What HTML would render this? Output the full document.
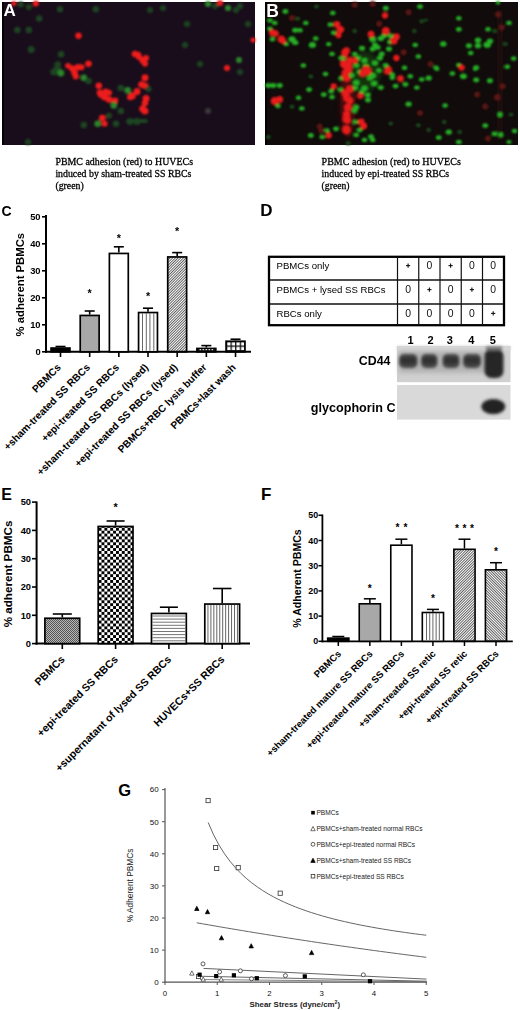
<!DOCTYPE html><html><head><meta charset="utf-8"><style>html,body{margin:0;padding:0;background:#fff;}svg{display:block}text{font-family:"Liberation Sans",sans-serif}</style></head><body>
<svg width="520" height="1010" viewBox="0 0 520 1010">
<defs>
<filter id="bl1" x="-50%" y="-50%" width="200%" height="200%"><feGaussianBlur stdDeviation="1"/></filter>
<filter id="bl15" x="-50%" y="-50%" width="200%" height="200%"><feGaussianBlur stdDeviation="1.3"/></filter>
<filter id="bl2" x="-50%" y="-50%" width="200%" height="200%"><feGaussianBlur stdDeviation="1.6"/></filter>
<filter id="bl3" x="-20%" y="-50%" width="140%" height="200%"><feGaussianBlur stdDeviation="2.2"/></filter>
<pattern id="hatchR" patternUnits="userSpaceOnUse" width="1.9" height="4" patternTransform="rotate(45)"><rect x="0" y="0" width="0.75" height="4" fill="#333"/></pattern>
<pattern id="hatchL" patternUnits="userSpaceOnUse" width="1.9" height="4" patternTransform="rotate(-45)"><rect x="0" y="0" width="0.75" height="4" fill="#333"/></pattern>
<pattern id="checker" patternUnits="userSpaceOnUse" width="5.8" height="5.8"><rect width="5.8" height="5.8" fill="#fff"/><rect width="2.9" height="2.9" fill="#000"/><rect x="2.9" y="2.9" width="2.9" height="2.9" fill="#000"/></pattern>
<pattern id="fine" patternUnits="userSpaceOnUse" width="2" height="2"><rect width="2" height="2" fill="#b8b8b8"/><rect width="1" height="1" fill="#555"/><rect x="1" y="1" width="1" height="1" fill="#555"/></pattern>
<pattern id="grid" patternUnits="userSpaceOnUse" width="4.6" height="4.6" x="0.5" y="0.5"><rect width="4.6" height="4.6" fill="#fff"/><rect width="4.6" height="1.3" fill="#111"/><rect width="1.3" height="4.6" fill="#111"/></pattern>
</defs>
<rect width="520" height="1010" fill="#fff"/>
<rect x="2" y="2" width="253" height="143" fill="#190d1b"/>
<rect x="2" y="2" width="2" height="143" fill="#050205"/>
<g filter="url(#bl15)">
<circle cx="13.8" cy="3.5" r="2.5" fill="#f01c1c"/>
<circle cx="35.8" cy="3.5" r="3" fill="#f01c1c"/>
<circle cx="20.8" cy="4.6" r="3" fill="#1f4421"/>
<circle cx="28.8" cy="6.9" r="3" fill="#1f4421"/>
<circle cx="60" cy="9.2" r="3.2" fill="#1f4421"/>
<circle cx="95.8" cy="9.2" r="3.2" fill="#1f4421"/>
<circle cx="39.2" cy="18.5" r="3.2" fill="#1f4421"/>
<circle cx="17.3" cy="30" r="3.2" fill="#1f4421"/>
<circle cx="28.8" cy="30" r="3.2" fill="#1f4421"/>
<circle cx="31.2" cy="49.6" r="3.5" fill="#1f4421"/>
<circle cx="61.2" cy="54.2" r="3.2" fill="#1f4421"/>
<circle cx="78.5" cy="35.8" r="3.2" fill="#f01c1c"/>
<circle cx="72.3" cy="68.5" r="3.3" fill="#f01c1c"/>
<circle cx="78" cy="67.3" r="3.3" fill="#f01c1c"/>
<circle cx="74.6" cy="73" r="3.3" fill="#f01c1c"/>
<circle cx="75.8" cy="76.5" r="3" fill="#f01c1c"/>
<circle cx="88.5" cy="63.8" r="3.3" fill="#f01c1c"/>
<circle cx="81.5" cy="67.3" r="3" fill="#f01c1c"/>
<circle cx="68" cy="65.8" r="2.8" fill="#f01c1c"/>
<circle cx="138" cy="55" r="3.3" fill="#f01c1c"/>
<circle cx="142.7" cy="60.4" r="3.3" fill="#f01c1c"/>
<circle cx="145" cy="63.8" r="3" fill="#f01c1c"/>
<circle cx="146" cy="58" r="3" fill="#f01c1c"/>
<circle cx="145" cy="77.7" r="3.5" fill="#f01c1c"/>
<circle cx="141.5" cy="84.6" r="3.3" fill="#f01c1c"/>
<circle cx="145" cy="85.8" r="3.3" fill="#f01c1c"/>
<circle cx="137" cy="91.5" r="3.5" fill="#f01c1c"/>
<circle cx="132.3" cy="96" r="3.5" fill="#f01c1c"/>
<circle cx="130" cy="97.3" r="3" fill="#f01c1c"/>
<circle cx="146" cy="98.5" r="3.5" fill="#f01c1c"/>
<circle cx="145" cy="103" r="3.3" fill="#f01c1c"/>
<circle cx="142.7" cy="108.8" r="3.5" fill="#f01c1c"/>
<circle cx="145" cy="111" r="3.5" fill="#f01c1c"/>
<circle cx="98.8" cy="85.8" r="3.3" fill="#f01c1c"/>
<circle cx="100" cy="92.7" r="3.3" fill="#f01c1c"/>
<circle cx="105.8" cy="91.5" r="3" fill="#f01c1c"/>
<circle cx="109" cy="92.7" r="3" fill="#f01c1c"/>
<circle cx="104.6" cy="97.3" r="3.3" fill="#f01c1c"/>
<circle cx="109" cy="99.6" r="3.3" fill="#f01c1c"/>
<circle cx="115" cy="100.8" r="3.3" fill="#f01c1c"/>
<circle cx="101" cy="95" r="3" fill="#f01c1c"/>
<circle cx="102.3" cy="118" r="3.3" fill="#f01c1c"/>
<circle cx="104.6" cy="123.8" r="3" fill="#f01c1c"/>
<circle cx="53.8" cy="72" r="3.5" fill="#1f4421"/>
<circle cx="57.3" cy="68.5" r="3.5" fill="#1f4421"/>
<circle cx="60.8" cy="73" r="3.5" fill="#2b862c"/>
<circle cx="60.8" cy="54.6" r="3" fill="#1f4421"/>
<circle cx="83.8" cy="77.7" r="3.3" fill="#2b862c"/>
<circle cx="88.5" cy="81" r="3.3" fill="#1f4421"/>
<circle cx="120.8" cy="88" r="3.3" fill="#1f4421"/>
<circle cx="127.7" cy="90.4" r="3.3" fill="#2b862c"/>
<circle cx="148.5" cy="89" r="3" fill="#1f4421"/>
<circle cx="113.8" cy="105.4" r="3.3" fill="#2b862c"/>
<circle cx="120.8" cy="111" r="3.3" fill="#1f4421"/>
<circle cx="97.7" cy="123.8" r="3.3" fill="#2b862c"/>
<circle cx="109" cy="115.8" r="3" fill="#1f4421"/>
<circle cx="116" cy="123.8" r="3.3" fill="#1f4421"/>
<circle cx="130" cy="121.5" r="3.5" fill="#1f4421"/>
<circle cx="137" cy="121.5" r="3.5" fill="#1f4421"/>
<circle cx="83.8" cy="125" r="3.3" fill="#1f4421"/>
<circle cx="57.7" cy="64.6" r="3.3" fill="#1f4421"/>
<circle cx="28" cy="142" r="3" fill="#1f4421"/>
<circle cx="150" cy="10" r="3" fill="#1f4421"/>
<circle cx="163" cy="8" r="3" fill="#1f4421"/>
<circle cx="208" cy="4" r="3" fill="#2b862c"/>
<circle cx="215" cy="6" r="3" fill="#1f4421"/>
<circle cx="220" cy="3" r="3" fill="#f01c1c"/>
<circle cx="228" cy="8" r="3" fill="#2b862c"/>
<circle cx="236" cy="10" r="3" fill="#1f4421"/>
<circle cx="240" cy="6" r="3" fill="#1f4421"/>
<circle cx="187" cy="24" r="3" fill="#1f4421"/>
<circle cx="248" cy="24" r="3" fill="#1f4421"/>
<circle cx="185" cy="45" r="3" fill="#1f4421"/>
<circle cx="253" cy="40" r="2.5" fill="#f01c1c"/>
<circle cx="135" cy="54" r="3.3" fill="#f01c1c"/>
<circle cx="139" cy="57" r="3" fill="#f01c1c"/>
<circle cx="200" cy="64" r="3" fill="#1f4421"/>
<circle cx="239" cy="60" r="3" fill="#2b862c"/>
<circle cx="227" cy="68" r="3" fill="#f01c1c"/>
<circle cx="208" cy="111" r="3" fill="#3a3a3a"/>
<circle cx="240" cy="72" r="3" fill="#1f4421"/>
<rect x="126" y="119" width="22" height="4" rx="2" fill="#1f4421"/>
</g>
<rect x="265" y="2" width="253" height="143" fill="#110b0c"/>
<rect x="265" y="2" width="2" height="143" fill="#040202"/>
<g filter="url(#bl15)">
<rect x="497" y="10" width="6" height="130" fill="#1f0d0b"/>
<ellipse cx="348" cy="100" rx="8" ry="38" fill="#4a1010" filter="url(#bl3)"/>
<ellipse cx="365" cy="72" rx="16" ry="20" fill="#12300f" filter="url(#bl3)"/>
<ellipse cx="316.5" cy="6.5" rx="2.40" ry="1.95" fill="#1d4d1f"/>
<ellipse cx="297.7" cy="18.8" rx="2.40" ry="1.95" fill="#1d4d1f"/>
<ellipse cx="421.7" cy="21.2" rx="2.40" ry="1.95" fill="#1d4d1f"/>
<ellipse cx="354.7" cy="31" rx="2.40" ry="1.95" fill="#1d4d1f"/>
<ellipse cx="414.3" cy="31" rx="2.40" ry="1.95" fill="#1d4d1f"/>
<ellipse cx="494.5" cy="31" rx="2.40" ry="1.95" fill="#1d4d1f"/>
<ellipse cx="505.4" cy="43.9" rx="2.40" ry="1.95" fill="#1d4d1f"/>
<ellipse cx="426" cy="20" rx="2.00" ry="1.62" fill="#1d4d1f"/>
<ellipse cx="310.8" cy="76.5" rx="2.40" ry="1.95" fill="#1d4d1f"/>
<ellipse cx="292" cy="106.8" rx="2.40" ry="1.95" fill="#1d4d1f"/>
<ellipse cx="268.3" cy="137" rx="2.40" ry="1.95" fill="#1d4d1f"/>
<ellipse cx="418.4" cy="125.2" rx="2.40" ry="1.95" fill="#1d4d1f"/>
<ellipse cx="390.7" cy="123.6" rx="2.40" ry="1.95" fill="#1d4d1f"/>
<ellipse cx="348.2" cy="143.2" rx="2.40" ry="1.95" fill="#1d4d1f"/>
<ellipse cx="444.2" cy="122" rx="2.40" ry="1.95" fill="#1d4d1f"/>
<ellipse cx="459.7" cy="132" rx="2.40" ry="1.95" fill="#1d4d1f"/>
<ellipse cx="511" cy="114.6" rx="2.40" ry="1.95" fill="#1d4d1f"/>
<ellipse cx="428.7" cy="130" rx="2.40" ry="1.95" fill="#1d4d1f"/>
<circle cx="292" cy="18" r="3" fill="#5a1612"/>
<circle cx="372.7" cy="4" r="3" fill="#5a1612"/>
<circle cx="354.7" cy="4.9" r="3" fill="#5a1612"/>
<circle cx="408.6" cy="12.3" r="3" fill="#5a1612"/>
<circle cx="379.2" cy="23.7" r="3" fill="#5a1612"/>
<circle cx="498" cy="14.6" r="3" fill="#5a1612"/>
<circle cx="501.8" cy="27.4" r="3" fill="#5a1612"/>
<circle cx="430.5" cy="64" r="3" fill="#5a1612"/>
<circle cx="319.7" cy="126.4" r="3" fill="#5a1612"/>
<circle cx="321.4" cy="130.5" r="3" fill="#5a1612"/>
<circle cx="477.1" cy="94.5" r="3" fill="#5a1612"/>
<circle cx="497.2" cy="97.3" r="3.3" fill="#5a1612"/>
<circle cx="502.7" cy="86.3" r="3" fill="#5a1612"/>
<circle cx="485.3" cy="106.4" r="3" fill="#5a1612"/>
<circle cx="488" cy="138.4" r="3" fill="#5a1612"/>
<circle cx="420" cy="113" r="3" fill="#5a1612"/>
<circle cx="403.7" cy="52.3" r="3" fill="#5a1612"/>
<ellipse cx="285.4" cy="11.4" rx="2.94" ry="2.37" fill="#25b025"/>
<ellipse cx="332.8" cy="13" rx="2.76" ry="2.22" fill="#25b025"/>
<ellipse cx="269.9" cy="20.4" rx="2.76" ry="2.22" fill="#25b025"/>
<ellipse cx="274.8" cy="22.9" rx="2.76" ry="2.22" fill="#25b025"/>
<ellipse cx="305.8" cy="22.9" rx="2.76" ry="2.22" fill="#25b025"/>
<ellipse cx="269.9" cy="28.6" rx="2.76" ry="2.22" fill="#25b025"/>
<ellipse cx="295.2" cy="30.2" rx="3.04" ry="2.44" fill="#25b025"/>
<ellipse cx="300" cy="30.2" rx="2.76" ry="2.22" fill="#25b025"/>
<ellipse cx="330.4" cy="24.5" rx="2.94" ry="2.37" fill="#25b025"/>
<ellipse cx="333.6" cy="32.7" rx="2.76" ry="2.22" fill="#25b025"/>
<ellipse cx="272.4" cy="39.2" rx="2.76" ry="2.22" fill="#25b025"/>
<ellipse cx="292" cy="39.2" rx="3.68" ry="2.96" fill="#25b025"/>
<ellipse cx="295.2" cy="42.5" rx="3.22" ry="2.59" fill="#25b025"/>
<ellipse cx="286.2" cy="44.1" rx="2.76" ry="2.22" fill="#25b025"/>
<ellipse cx="315.7" cy="38.4" rx="2.76" ry="2.22" fill="#25b025"/>
<ellipse cx="312.4" cy="44.9" rx="3.68" ry="2.96" fill="#25b025"/>
<ellipse cx="328.7" cy="44.1" rx="2.76" ry="2.22" fill="#25b025"/>
<ellipse cx="332" cy="53.9" rx="2.76" ry="2.22" fill="#25b025"/>
<ellipse cx="341" cy="58" rx="2.76" ry="2.22" fill="#25b025"/>
<ellipse cx="303.4" cy="65.4" rx="2.76" ry="2.22" fill="#25b025"/>
<ellipse cx="385.8" cy="8.2" rx="2.94" ry="2.37" fill="#25b025"/>
<ellipse cx="420" cy="6.5" rx="2.94" ry="2.37" fill="#25b025"/>
<ellipse cx="372.7" cy="39.2" rx="3.68" ry="2.96" fill="#25b025"/>
<ellipse cx="380.8" cy="38.4" rx="3.22" ry="2.59" fill="#25b025"/>
<ellipse cx="390.7" cy="36" rx="3.22" ry="2.59" fill="#25b025"/>
<ellipse cx="415.2" cy="44.9" rx="2.76" ry="2.22" fill="#25b025"/>
<ellipse cx="362" cy="48.2" rx="3.04" ry="2.44" fill="#25b025"/>
<ellipse cx="372.7" cy="49" rx="3.04" ry="2.44" fill="#25b025"/>
<ellipse cx="377.6" cy="47.4" rx="3.04" ry="2.44" fill="#25b025"/>
<ellipse cx="381.7" cy="53.9" rx="3.04" ry="2.44" fill="#25b025"/>
<ellipse cx="389" cy="49" rx="3.04" ry="2.44" fill="#25b025"/>
<ellipse cx="354.7" cy="53.9" rx="2.76" ry="2.22" fill="#25b025"/>
<ellipse cx="418.4" cy="56.4" rx="2.76" ry="2.22" fill="#25b025"/>
<ellipse cx="364.5" cy="60.5" rx="3.04" ry="2.44" fill="#25b025"/>
<ellipse cx="380" cy="58" rx="3.04" ry="2.44" fill="#25b025"/>
<ellipse cx="375" cy="62.9" rx="3.04" ry="2.44" fill="#25b025"/>
<ellipse cx="385.8" cy="65.4" rx="3.04" ry="2.44" fill="#25b025"/>
<ellipse cx="404.5" cy="67.8" rx="2.76" ry="2.22" fill="#25b025"/>
<ellipse cx="343.3" cy="58" rx="2.76" ry="2.22" fill="#25b025"/>
<ellipse cx="356.3" cy="65.4" rx="2.76" ry="2.22" fill="#25b025"/>
<ellipse cx="458.8" cy="18.3" rx="2.76" ry="2.22" fill="#25b025"/>
<ellipse cx="458.8" cy="29.3" rx="2.94" ry="2.37" fill="#25b025"/>
<ellipse cx="443.3" cy="43.9" rx="3.22" ry="2.59" fill="#25b025"/>
<ellipse cx="468.9" cy="45.7" rx="3.04" ry="2.44" fill="#25b025"/>
<ellipse cx="478" cy="40.2" rx="3.22" ry="2.59" fill="#25b025"/>
<ellipse cx="478" cy="45.7" rx="3.22" ry="2.59" fill="#25b025"/>
<ellipse cx="487.2" cy="44.8" rx="3.86" ry="3.11" fill="#25b025"/>
<ellipse cx="490" cy="41.1" rx="3.22" ry="2.59" fill="#25b025"/>
<ellipse cx="488" cy="29.3" rx="2.76" ry="2.22" fill="#25b025"/>
<ellipse cx="509" cy="22.9" rx="2.76" ry="2.22" fill="#25b025"/>
<ellipse cx="513.7" cy="58.5" rx="2.76" ry="2.22" fill="#25b025"/>
<ellipse cx="498" cy="2.7" rx="2.30" ry="1.85" fill="#25b025"/>
<ellipse cx="436" cy="67.6" rx="2.76" ry="2.22" fill="#25b025"/>
<ellipse cx="458.8" cy="65" rx="2.76" ry="2.22" fill="#25b025"/>
<ellipse cx="476.2" cy="67.6" rx="3.04" ry="2.44" fill="#25b025"/>
<ellipse cx="507.3" cy="66.7" rx="2.76" ry="2.22" fill="#25b025"/>
<ellipse cx="470.7" cy="53" rx="2.76" ry="2.22" fill="#25b025"/>
<ellipse cx="268.3" cy="85.5" rx="3.04" ry="2.44" fill="#25b025"/>
<ellipse cx="273.2" cy="85.5" rx="3.04" ry="2.44" fill="#25b025"/>
<ellipse cx="279.7" cy="85.5" rx="3.04" ry="2.44" fill="#25b025"/>
<ellipse cx="278" cy="106" rx="2.76" ry="2.22" fill="#25b025"/>
<ellipse cx="309.1" cy="89.6" rx="2.94" ry="2.37" fill="#25b025"/>
<ellipse cx="325.5" cy="74" rx="2.76" ry="2.22" fill="#25b025"/>
<ellipse cx="298.5" cy="97.8" rx="2.76" ry="2.22" fill="#25b025"/>
<ellipse cx="301.8" cy="108.4" rx="2.76" ry="2.22" fill="#25b025"/>
<ellipse cx="323.8" cy="94.5" rx="2.94" ry="2.37" fill="#25b025"/>
<ellipse cx="331.2" cy="91.2" rx="2.94" ry="2.37" fill="#25b025"/>
<ellipse cx="332" cy="97" rx="2.76" ry="2.22" fill="#25b025"/>
<ellipse cx="341" cy="78.2" rx="2.76" ry="2.22" fill="#25b025"/>
<ellipse cx="340.2" cy="89.6" rx="2.76" ry="2.22" fill="#25b025"/>
<ellipse cx="310.8" cy="135.4" rx="2.94" ry="2.37" fill="#25b025"/>
<ellipse cx="327" cy="130.5" rx="2.76" ry="2.22" fill="#25b025"/>
<ellipse cx="336" cy="128.8" rx="2.94" ry="2.37" fill="#25b025"/>
<ellipse cx="322.2" cy="137" rx="2.76" ry="2.22" fill="#25b025"/>
<ellipse cx="351.4" cy="75.4" rx="3.04" ry="2.44" fill="#25b025"/>
<ellipse cx="356.3" cy="82.7" rx="3.22" ry="2.59" fill="#25b025"/>
<ellipse cx="364.5" cy="88.4" rx="3.22" ry="2.59" fill="#25b025"/>
<ellipse cx="367.8" cy="95" rx="3.04" ry="2.44" fill="#25b025"/>
<ellipse cx="372.7" cy="75.4" rx="3.22" ry="2.59" fill="#25b025"/>
<ellipse cx="374.3" cy="83.5" rx="3.22" ry="2.59" fill="#25b025"/>
<ellipse cx="380.8" cy="87.6" rx="3.04" ry="2.44" fill="#25b025"/>
<ellipse cx="379.2" cy="70.5" rx="2.76" ry="2.22" fill="#25b025"/>
<ellipse cx="392.3" cy="74.5" rx="2.76" ry="2.22" fill="#25b025"/>
<ellipse cx="392.3" cy="77.8" rx="2.76" ry="2.22" fill="#25b025"/>
<ellipse cx="395.6" cy="86" rx="2.94" ry="2.37" fill="#25b025"/>
<ellipse cx="405.4" cy="84.3" rx="2.94" ry="2.37" fill="#25b025"/>
<ellipse cx="410.3" cy="76.2" rx="2.76" ry="2.22" fill="#25b025"/>
<ellipse cx="416.8" cy="87.6" rx="2.76" ry="2.22" fill="#25b025"/>
<ellipse cx="421.7" cy="79.4" rx="2.76" ry="2.22" fill="#25b025"/>
<ellipse cx="356.3" cy="107.2" rx="3.04" ry="2.44" fill="#25b025"/>
<ellipse cx="354.7" cy="110.5" rx="3.04" ry="2.44" fill="#25b025"/>
<ellipse cx="408.6" cy="104" rx="3.22" ry="2.59" fill="#25b025"/>
<ellipse cx="355.5" cy="121.9" rx="2.76" ry="2.22" fill="#25b025"/>
<ellipse cx="359.6" cy="130" rx="2.94" ry="2.37" fill="#25b025"/>
<ellipse cx="356.3" cy="135" rx="2.76" ry="2.22" fill="#25b025"/>
<ellipse cx="371" cy="136.6" rx="2.94" ry="2.37" fill="#25b025"/>
<ellipse cx="372.7" cy="139.9" rx="2.76" ry="2.22" fill="#25b025"/>
<ellipse cx="364.5" cy="139.9" rx="2.76" ry="2.22" fill="#25b025"/>
<ellipse cx="358" cy="58" rx="3.04" ry="2.44" fill="#25b025"/>
<ellipse cx="366" cy="66" rx="3.22" ry="2.59" fill="#25b025"/>
<ellipse cx="360" cy="72" rx="3.04" ry="2.44" fill="#25b025"/>
<ellipse cx="370" cy="78" rx="3.04" ry="2.44" fill="#25b025"/>
<ellipse cx="355" cy="88" rx="3.04" ry="2.44" fill="#25b025"/>
<ellipse cx="362" cy="92" rx="3.04" ry="2.44" fill="#25b025"/>
<ellipse cx="368" cy="100" rx="3.04" ry="2.44" fill="#25b025"/>
<ellipse cx="375" cy="45" rx="3.04" ry="2.44" fill="#25b025"/>
<ellipse cx="384" cy="36" rx="3.04" ry="2.44" fill="#25b025"/>
<ellipse cx="390" cy="42" rx="3.04" ry="2.44" fill="#25b025"/>
<ellipse cx="428.7" cy="78" rx="3.22" ry="2.59" fill="#25b025"/>
<ellipse cx="452.4" cy="73.5" rx="2.76" ry="2.22" fill="#25b025"/>
<ellipse cx="463.4" cy="76.2" rx="3.50" ry="2.81" fill="#25b025"/>
<ellipse cx="436.9" cy="69" rx="2.58" ry="2.07" fill="#25b025"/>
<ellipse cx="476.2" cy="79.9" rx="3.04" ry="2.44" fill="#25b025"/>
<ellipse cx="489.9" cy="80.8" rx="3.04" ry="2.44" fill="#25b025"/>
<ellipse cx="445.1" cy="105.5" rx="2.76" ry="2.22" fill="#25b025"/>
<ellipse cx="448.8" cy="132" rx="3.22" ry="2.59" fill="#25b025"/>
<ellipse cx="438.7" cy="137.5" rx="2.94" ry="2.37" fill="#25b025"/>
<ellipse cx="458.8" cy="142" rx="2.94" ry="2.37" fill="#25b025"/>
<ellipse cx="485.3" cy="125.6" rx="2.94" ry="2.37" fill="#25b025"/>
<ellipse cx="494.5" cy="133.8" rx="2.94" ry="2.37" fill="#25b025"/>
<ellipse cx="500.9" cy="134.7" rx="2.76" ry="2.22" fill="#25b025"/>
<ellipse cx="500" cy="114.6" rx="2.94" ry="2.37" fill="#25b025"/>
<ellipse cx="514.6" cy="131" rx="2.76" ry="2.22" fill="#25b025"/>
<ellipse cx="509" cy="142" rx="2.58" ry="2.07" fill="#25b025"/>
<ellipse cx="475.3" cy="69" rx="2.58" ry="2.07" fill="#25b025"/>
<circle cx="272.4" cy="32.7" r="3.46" fill="#e81a1a"/>
<circle cx="275.6" cy="33.5" r="3.15" fill="#e81a1a"/>
<circle cx="281.3" cy="39.2" r="3.68" fill="#e81a1a"/>
<circle cx="283" cy="40.8" r="3.15" fill="#e81a1a"/>
<circle cx="336.9" cy="24.5" r="3.46" fill="#e81a1a"/>
<circle cx="340.2" cy="29.4" r="3.68" fill="#e81a1a"/>
<circle cx="338.5" cy="35.1" r="3.15" fill="#e81a1a"/>
<circle cx="345" cy="52.3" r="3.68" fill="#e81a1a"/>
<circle cx="343.4" cy="63.7" r="3.68" fill="#e81a1a"/>
<circle cx="346.7" cy="67" r="3.68" fill="#e81a1a"/>
<circle cx="385" cy="15.5" r="3.15" fill="#e81a1a"/>
<circle cx="341.6" cy="29.4" r="2.62" fill="#e81a1a"/>
<circle cx="371" cy="34.3" r="3.46" fill="#e81a1a"/>
<circle cx="385.8" cy="31" r="3.99" fill="#e81a1a"/>
<circle cx="393.9" cy="40.8" r="3.68" fill="#e81a1a"/>
<circle cx="396.4" cy="36.8" r="3.46" fill="#e81a1a"/>
<circle cx="346.5" cy="50.7" r="3.46" fill="#e81a1a"/>
<circle cx="344.9" cy="53.9" r="3.46" fill="#e81a1a"/>
<circle cx="349.8" cy="60.5" r="3.68" fill="#e81a1a"/>
<circle cx="354.7" cy="60.5" r="3.15" fill="#e81a1a"/>
<circle cx="344.9" cy="65.4" r="3.46" fill="#e81a1a"/>
<circle cx="349" cy="67" r="3.46" fill="#e81a1a"/>
<circle cx="396.4" cy="58" r="3.15" fill="#e81a1a"/>
<circle cx="366" cy="68.6" r="3.15" fill="#e81a1a"/>
<circle cx="389" cy="69.4" r="3.15" fill="#e81a1a"/>
<circle cx="461.6" cy="67.6" r="3.15" fill="#e81a1a"/>
<circle cx="274.8" cy="101" r="3.99" fill="#e81a1a"/>
<circle cx="279.7" cy="99.4" r="3.46" fill="#e81a1a"/>
<circle cx="333.6" cy="86.3" r="3.15" fill="#e81a1a"/>
<circle cx="345" cy="73.3" r="3.46" fill="#e81a1a"/>
<circle cx="346.7" cy="78.2" r="3.46" fill="#e81a1a"/>
<circle cx="345.9" cy="92.9" r="3.68" fill="#e81a1a"/>
<circle cx="346.7" cy="97.8" r="3.68" fill="#e81a1a"/>
<circle cx="347.5" cy="107.6" r="3.46" fill="#e81a1a"/>
<circle cx="346.7" cy="114" r="3.46" fill="#e81a1a"/>
<circle cx="345.9" cy="119" r="3.46" fill="#e81a1a"/>
<circle cx="345.9" cy="129.6" r="3.99" fill="#e81a1a"/>
<circle cx="328.7" cy="135.4" r="3.15" fill="#e81a1a"/>
<circle cx="348.2" cy="70.5" r="3.46" fill="#e81a1a"/>
<circle cx="345" cy="76.2" r="3.46" fill="#e81a1a"/>
<circle cx="362.9" cy="72.9" r="3.68" fill="#e81a1a"/>
<circle cx="367.8" cy="71.3" r="3.68" fill="#e81a1a"/>
<circle cx="387.4" cy="71.3" r="3.46" fill="#e81a1a"/>
<circle cx="400.5" cy="78.6" r="3.36" fill="#e81a1a"/>
<circle cx="349.8" cy="89.2" r="3.68" fill="#e81a1a"/>
<circle cx="344.9" cy="93.3" r="3.46" fill="#e81a1a"/>
<circle cx="349.8" cy="100.7" r="3.46" fill="#e81a1a"/>
<circle cx="348.2" cy="107.2" r="3.46" fill="#e81a1a"/>
<circle cx="360.4" cy="95.8" r="3.15" fill="#e81a1a"/>
<circle cx="346.5" cy="115.4" r="3.46" fill="#e81a1a"/>
<circle cx="347.4" cy="120.3" r="3.46" fill="#e81a1a"/>
<circle cx="346.5" cy="130" r="4.20" fill="#e81a1a"/>
<circle cx="361.2" cy="121.9" r="3.46" fill="#e81a1a"/>
<circle cx="363.7" cy="126" r="3.46" fill="#e81a1a"/>
</g>
<text x="3.6" y="15.6" font-size="17" font-weight="bold" fill="#fff">A</text>
<text x="266.3" y="16.6" font-size="17.5" font-weight="bold" fill="#fff">B</text>
<text x="55.4" y="165.4" font-size="10.5" textLength="137.6" lengthAdjust="spacingAndGlyphs" style="font-family:'Liberation Serif',serif" fill="#000" stroke="#000" stroke-width="0.3">PBMC adhesion (red) to HUVECs</text>
<text x="55.4" y="177.2" font-size="10.5" textLength="136" lengthAdjust="spacingAndGlyphs" style="font-family:'Liberation Serif',serif" fill="#000" stroke="#000" stroke-width="0.3">induced by sham-treated SS RBCs</text>
<text x="55.4" y="189.0" font-size="10.5" textLength="28.4" lengthAdjust="spacingAndGlyphs" style="font-family:'Liberation Serif',serif" fill="#000" stroke="#000" stroke-width="0.3">(green)</text>
<text x="321.6" y="165.4" font-size="10.5" textLength="139.2" lengthAdjust="spacingAndGlyphs" style="font-family:'Liberation Serif',serif" fill="#000" stroke="#000" stroke-width="0.3">PBMC adhesion (red) to HUVECs</text>
<text x="321.6" y="177.2" font-size="10.5" textLength="127.6" lengthAdjust="spacingAndGlyphs" style="font-family:'Liberation Serif',serif" fill="#000" stroke="#000" stroke-width="0.3">induced by epi-treated SS RBCs</text>
<text x="321.6" y="189.0" font-size="10.5" textLength="28" lengthAdjust="spacingAndGlyphs" style="font-family:'Liberation Serif',serif" fill="#000" stroke="#000" stroke-width="0.3">(green)</text>
<text x="1.50" y="215.50" font-size="14" font-weight="bold" text-anchor="start" fill="#000" >C</text>
<line x1="46" y1="215" x2="46" y2="352.8" stroke="#000" stroke-width="2"/>
<line x1="45" y1="351.8" x2="251" y2="351.8" stroke="#000" stroke-width="2"/>
<line x1="42" y1="351.80" x2="46" y2="351.80" stroke="#000" stroke-width="1.6"/>
<text x="40.60" y="355.20" font-size="9.4" font-weight="bold" text-anchor="end" fill="#000" >0</text>
<line x1="42" y1="324.80" x2="46" y2="324.80" stroke="#000" stroke-width="1.6"/>
<text x="40.60" y="328.20" font-size="9.4" font-weight="bold" text-anchor="end" fill="#000" >10</text>
<line x1="42" y1="297.80" x2="46" y2="297.80" stroke="#000" stroke-width="1.6"/>
<text x="40.60" y="301.20" font-size="9.4" font-weight="bold" text-anchor="end" fill="#000" >20</text>
<line x1="42" y1="270.80" x2="46" y2="270.80" stroke="#000" stroke-width="1.6"/>
<text x="40.60" y="274.20" font-size="9.4" font-weight="bold" text-anchor="end" fill="#000" >30</text>
<line x1="42" y1="243.80" x2="46" y2="243.80" stroke="#000" stroke-width="1.6"/>
<text x="40.60" y="247.20" font-size="9.4" font-weight="bold" text-anchor="end" fill="#000" >40</text>
<line x1="42" y1="216.80" x2="46" y2="216.80" stroke="#000" stroke-width="1.6"/>
<text x="40.60" y="220.20" font-size="9.4" font-weight="bold" text-anchor="end" fill="#000" >50</text>
<line x1="60.50" y1="351.8" x2="60.50" y2="357" stroke="#000" stroke-width="1.6"/>
<line x1="89.67" y1="351.8" x2="89.67" y2="357" stroke="#000" stroke-width="1.6"/>
<line x1="118.84" y1="351.8" x2="118.84" y2="357" stroke="#000" stroke-width="1.6"/>
<line x1="148.01" y1="351.8" x2="148.01" y2="357" stroke="#000" stroke-width="1.6"/>
<line x1="177.18" y1="351.8" x2="177.18" y2="357" stroke="#000" stroke-width="1.6"/>
<line x1="206.35" y1="351.8" x2="206.35" y2="357" stroke="#000" stroke-width="1.6"/>
<line x1="235.52" y1="351.8" x2="235.52" y2="357" stroke="#000" stroke-width="1.6"/>
<text x="0" y="0" font-size="11.3" font-weight="bold" text-anchor="middle" fill="#000" transform="translate(23.60,284.70) rotate(-90)">% adherent PBMCs</text>
<line x1="60.50" y1="346.50" x2="60.50" y2="347.20" stroke="#000" stroke-width="1.6"/>
<line x1="55.50" y1="346.50" x2="65.50" y2="346.50" stroke="#000" stroke-width="1.6"/>
<rect x="51.05" y="348.05" width="18.90" height="3.75" fill="#000" stroke="#000" stroke-width="1.7"/>
<line x1="89.67" y1="311.00" x2="89.67" y2="314.60" stroke="#000" stroke-width="1.6"/>
<line x1="84.67" y1="311.00" x2="94.67" y2="311.00" stroke="#000" stroke-width="1.6"/>
<rect x="80.22" y="315.45" width="18.90" height="36.35" fill="#a8a8a8" stroke="#000" stroke-width="1.7"/>
<text x="89.67" y="297.44" font-size="10.799999999999999" font-weight="bold" text-anchor="middle">*</text>
<line x1="118.84" y1="246.80" x2="118.84" y2="252.60" stroke="#000" stroke-width="1.6"/>
<line x1="113.84" y1="246.80" x2="123.84" y2="246.80" stroke="#000" stroke-width="1.6"/>
<rect x="109.39" y="253.45" width="18.90" height="98.35" fill="#fff" stroke="#000" stroke-width="1.7"/>
<text x="118.84" y="242.44" font-size="10.799999999999999" font-weight="bold" text-anchor="middle">*</text>
<line x1="148.01" y1="308.20" x2="148.01" y2="311.70" stroke="#000" stroke-width="1.6"/>
<line x1="143.01" y1="308.20" x2="153.01" y2="308.20" stroke="#000" stroke-width="1.6"/>
<rect x="138.56" y="312.55" width="18.90" height="39.25" fill="#fff" stroke="#000" stroke-width="1.7"/>
<text x="148.01" y="300.04" font-size="10.799999999999999" font-weight="bold" text-anchor="middle">*</text>
<line x1="177.18" y1="252.60" x2="177.18" y2="256.10" stroke="#000" stroke-width="1.6"/>
<line x1="172.18" y1="252.60" x2="182.18" y2="252.60" stroke="#000" stroke-width="1.6"/>
<rect x="167.73" y="256.95" width="18.90" height="94.85" fill="url(#hatchR)" stroke="#000" stroke-width="1.7"/>
<text x="177.18" y="234.94" font-size="10.799999999999999" font-weight="bold" text-anchor="middle">*</text>
<line x1="206.35" y1="345.60" x2="206.35" y2="347.60" stroke="#000" stroke-width="1.6"/>
<line x1="201.35" y1="345.60" x2="211.35" y2="345.60" stroke="#000" stroke-width="1.6"/>
<rect x="196.90" y="348.45" width="18.90" height="3.35" fill="#111" stroke="#000" stroke-width="1.7"/>
<line x1="235.52" y1="339.20" x2="235.52" y2="340.40" stroke="#000" stroke-width="1.6"/>
<line x1="230.52" y1="339.20" x2="240.52" y2="339.20" stroke="#000" stroke-width="1.6"/>
<rect x="226.07" y="341.25" width="18.90" height="10.55" fill="url(#grid)" stroke="#000" stroke-width="1.7"/>
<line x1="142.51" y1="313.4" x2="142.51" y2="350.8" stroke="#555" stroke-width="0.9"/>
<line x1="146.31" y1="313.4" x2="146.31" y2="350.8" stroke="#555" stroke-width="0.9"/>
<line x1="149.91" y1="313.4" x2="149.91" y2="350.8" stroke="#555" stroke-width="0.9"/>
<line x1="153.81" y1="313.4" x2="153.81" y2="350.8" stroke="#555" stroke-width="0.9"/>
<rect x="199.55" y="349" width="1.6" height="1.2" fill="#ddd"/>
<rect x="202.55" y="349" width="1.6" height="1.2" fill="#ddd"/>
<rect x="205.55" y="349" width="1.6" height="1.2" fill="#ddd"/>
<rect x="208.55" y="349" width="1.6" height="1.2" fill="#ddd"/>
<rect x="211.55" y="349" width="1.6" height="1.2" fill="#ddd"/>
<text x="0" y="0" font-size="10.2" font-weight="bold" text-anchor="end" fill="#000" transform="translate(61.50,368.00) rotate(-45)">PBMCs</text>
<text x="0" y="0" font-size="10.2" font-weight="bold" text-anchor="end" fill="#000" transform="translate(90.67,368.00) rotate(-45)">+sham-treated SS RBCs</text>
<text x="0" y="0" font-size="10.2" font-weight="bold" text-anchor="end" fill="#000" transform="translate(119.84,368.00) rotate(-45)">+epi-treated SS RBCs</text>
<text x="0" y="0" font-size="10.2" font-weight="bold" text-anchor="end" fill="#000" transform="translate(149.01,368.00) rotate(-45)">+sham-treated SS RBCs (lysed)</text>
<text x="0" y="0" font-size="10.2" font-weight="bold" text-anchor="end" fill="#000" transform="translate(178.18,368.00) rotate(-45)">+epi-treated SS RBCs (lysed)</text>
<text x="0" y="0" font-size="10.2" font-weight="bold" text-anchor="end" fill="#000" transform="translate(207.35,368.00) rotate(-45)">PBMCs+RBC lysis buffer</text>
<text x="0" y="0" font-size="10.2" font-weight="bold" text-anchor="end" fill="#000" transform="translate(236.52,368.00) rotate(-45)">PBMCs+last wash</text>
<text x="260.30" y="215.90" font-size="17" font-weight="bold" text-anchor="start" fill="#000" >D</text>
<rect x="269" y="256.8" width="235" height="68.4" fill="#fff" stroke="#000" stroke-width="2.3"/>
<line x1="270" y1="280" x2="503" y2="280" stroke="#111" stroke-width="1.3"/>
<line x1="270" y1="304" x2="503" y2="304" stroke="#111" stroke-width="1.3"/>
<line x1="397.5" y1="257.5" x2="397.5" y2="324" stroke="#111" stroke-width="1.2"/>
<line x1="418.75" y1="257.5" x2="418.75" y2="324" stroke="#111" stroke-width="1.2"/>
<line x1="440" y1="257.5" x2="440" y2="324" stroke="#111" stroke-width="1.2"/>
<line x1="461.25" y1="257.5" x2="461.25" y2="324" stroke="#111" stroke-width="1.2"/>
<line x1="482.5" y1="257.5" x2="482.5" y2="324" stroke="#111" stroke-width="1.2"/>
<text x="276.50" y="269.00" font-size="9.6" font-weight="normal" text-anchor="start" fill="#000" >PBMCs only</text>
<line x1="406.00" y1="265.60" x2="410.20" y2="265.60" stroke="#111" stroke-width="1.1"/>
<line x1="408.10" y1="263.50" x2="408.10" y2="267.70" stroke="#111" stroke-width="1.1"/>
<text x="429.40" y="268.80" font-size="10.4" font-weight="normal" text-anchor="middle" fill="#111" >0</text>
<line x1="448.50" y1="265.60" x2="452.70" y2="265.60" stroke="#111" stroke-width="1.1"/>
<line x1="450.60" y1="263.50" x2="450.60" y2="267.70" stroke="#111" stroke-width="1.1"/>
<text x="471.90" y="268.80" font-size="10.4" font-weight="normal" text-anchor="middle" fill="#111" >0</text>
<text x="493.20" y="268.80" font-size="10.4" font-weight="normal" text-anchor="middle" fill="#111" >0</text>
<text x="276.50" y="293.00" font-size="9.6" font-weight="normal" text-anchor="start" fill="#000" >PBMCs + lysed SS RBCs</text>
<text x="408.10" y="292.80" font-size="10.4" font-weight="normal" text-anchor="middle" fill="#111" >0</text>
<line x1="427.30" y1="289.60" x2="431.50" y2="289.60" stroke="#111" stroke-width="1.1"/>
<line x1="429.40" y1="287.50" x2="429.40" y2="291.70" stroke="#111" stroke-width="1.1"/>
<text x="450.60" y="292.80" font-size="10.4" font-weight="normal" text-anchor="middle" fill="#111" >0</text>
<line x1="469.80" y1="289.60" x2="474.00" y2="289.60" stroke="#111" stroke-width="1.1"/>
<line x1="471.90" y1="287.50" x2="471.90" y2="291.70" stroke="#111" stroke-width="1.1"/>
<text x="493.20" y="292.80" font-size="10.4" font-weight="normal" text-anchor="middle" fill="#111" >0</text>
<text x="276.50" y="316.80" font-size="9.6" font-weight="normal" text-anchor="start" fill="#000" >RBCs only</text>
<text x="408.10" y="316.60" font-size="10.4" font-weight="normal" text-anchor="middle" fill="#111" >0</text>
<text x="429.40" y="316.60" font-size="10.4" font-weight="normal" text-anchor="middle" fill="#111" >0</text>
<text x="450.60" y="316.60" font-size="10.4" font-weight="normal" text-anchor="middle" fill="#111" >0</text>
<text x="471.90" y="316.60" font-size="10.4" font-weight="normal" text-anchor="middle" fill="#111" >0</text>
<line x1="491.10" y1="313.40" x2="495.30" y2="313.40" stroke="#111" stroke-width="1.1"/>
<line x1="493.20" y1="311.30" x2="493.20" y2="315.50" stroke="#111" stroke-width="1.1"/>
<text x="410.50" y="344.00" font-size="11" font-weight="bold" text-anchor="middle" fill="#000" >1</text>
<text x="430.50" y="344.00" font-size="11" font-weight="bold" text-anchor="middle" fill="#000" >2</text>
<text x="449.80" y="344.00" font-size="11" font-weight="bold" text-anchor="middle" fill="#000" >3</text>
<text x="471.20" y="344.00" font-size="11" font-weight="bold" text-anchor="middle" fill="#000" >4</text>
<text x="492.80" y="344.00" font-size="11" font-weight="bold" text-anchor="middle" fill="#000" >5</text>
<text x="390.50" y="365.40" font-size="12.4" font-weight="bold" text-anchor="end" fill="#000" >CD44</text>
<text x="395.50" y="412.00" font-size="12.6" font-weight="bold" text-anchor="end" fill="#000" >glycophorin C</text>
<rect x="397" y="346" width="113.5" height="36.2" fill="#d0d0d0"/>
<rect x="397" y="385" width="113.5" height="34.6" fill="#d9d9d9"/>
<rect x="397" y="346" width="113.5" height="4" fill="#d8d8d8" filter="url(#bl2)"/>
<rect x="399" y="351" width="100" height="22" fill="#b4b4b4" filter="url(#bl3)"/>
<g filter="url(#bl2)">
<rect x="399.0" y="354" width="18.5" height="14" rx="5" fill="#454545"/>
<rect x="400.5" y="357" width="15.5" height="7" rx="3" fill="#333"/>
<rect x="421.0" y="354" width="16.5" height="14" rx="5" fill="#454545"/>
<rect x="422.5" y="357" width="13.5" height="7" rx="3" fill="#333"/>
<rect x="442.5" y="354" width="17" height="14" rx="5" fill="#454545"/>
<rect x="444" y="357" width="14" height="7" rx="3" fill="#333"/>
<rect x="463.0" y="354" width="18.0" height="14" rx="5" fill="#454545"/>
<rect x="464.5" y="357" width="15.0" height="7" rx="3" fill="#333"/>
<rect x="484.5" y="349" width="19" height="29" rx="7" fill="#282828"/>
<rect x="486" y="346.5" width="16" height="4" fill="#777"/>
<ellipse cx="493.3" cy="406.6" rx="12" ry="7.6" fill="#242424"/>
</g>
<text x="1.30" y="500.30" font-size="16" font-weight="bold" text-anchor="start" fill="#000" >E</text>
<line x1="36.6" y1="501.5" x2="36.6" y2="644.6" stroke="#000" stroke-width="2"/>
<line x1="35.6" y1="643.6" x2="250" y2="643.6" stroke="#000" stroke-width="2"/>
<line x1="32" y1="643.60" x2="36.6" y2="643.60" stroke="#000" stroke-width="1.6"/>
<text x="31.00" y="646.90" font-size="9.3" font-weight="bold" text-anchor="end" fill="#000" >0</text>
<line x1="32" y1="615.30" x2="36.6" y2="615.30" stroke="#000" stroke-width="1.6"/>
<text x="31.00" y="618.60" font-size="9.3" font-weight="bold" text-anchor="end" fill="#000" >10</text>
<line x1="32" y1="587.00" x2="36.6" y2="587.00" stroke="#000" stroke-width="1.6"/>
<text x="31.00" y="590.30" font-size="9.3" font-weight="bold" text-anchor="end" fill="#000" >20</text>
<line x1="32" y1="558.70" x2="36.6" y2="558.70" stroke="#000" stroke-width="1.6"/>
<text x="31.00" y="562.00" font-size="9.3" font-weight="bold" text-anchor="end" fill="#000" >30</text>
<line x1="32" y1="530.40" x2="36.6" y2="530.40" stroke="#000" stroke-width="1.6"/>
<text x="31.00" y="533.70" font-size="9.3" font-weight="bold" text-anchor="end" fill="#000" >40</text>
<line x1="32" y1="502.10" x2="36.6" y2="502.10" stroke="#000" stroke-width="1.6"/>
<text x="31.00" y="505.40" font-size="9.3" font-weight="bold" text-anchor="end" fill="#000" >50</text>
<line x1="62.30" y1="643.6" x2="62.30" y2="649" stroke="#000" stroke-width="1.6"/>
<line x1="115.60" y1="643.6" x2="115.60" y2="649" stroke="#000" stroke-width="1.6"/>
<line x1="168.90" y1="643.6" x2="168.90" y2="649" stroke="#000" stroke-width="1.6"/>
<line x1="222.20" y1="643.6" x2="222.20" y2="649" stroke="#000" stroke-width="1.6"/>
<text x="0" y="0" font-size="11.65" font-weight="bold" text-anchor="middle" fill="#000" transform="translate(12.30,574.00) rotate(-90)">% adherent PBMCs</text>
<line x1="62.30" y1="614.00" x2="62.30" y2="617.40" stroke="#000" stroke-width="1.6"/>
<line x1="52.80" y1="614.00" x2="71.80" y2="614.00" stroke="#000" stroke-width="1.6"/>
<rect x="44.90" y="618.25" width="34.80" height="25.35" fill="url(#fine)" stroke="#000" stroke-width="1.7"/>
<line x1="115.60" y1="521.00" x2="115.60" y2="525.60" stroke="#000" stroke-width="1.6"/>
<line x1="106.60" y1="521.00" x2="124.60" y2="521.00" stroke="#000" stroke-width="1.6"/>
<rect x="98.20" y="526.45" width="34.80" height="117.15" fill="url(#checker)" stroke="#000" stroke-width="1.7"/>
<text x="115.60" y="510.54" font-size="10.799999999999999" font-weight="bold" text-anchor="middle">*</text>
<line x1="168.90" y1="607.20" x2="168.90" y2="612.60" stroke="#000" stroke-width="1.6"/>
<line x1="159.90" y1="607.20" x2="177.90" y2="607.20" stroke="#000" stroke-width="1.6"/>
<rect x="151.50" y="613.45" width="34.80" height="30.15" fill="#fff" stroke="#000" stroke-width="1.7"/>
<line x1="222.20" y1="588.50" x2="222.20" y2="603.20" stroke="#000" stroke-width="1.6"/>
<line x1="212.95" y1="588.50" x2="231.45" y2="588.50" stroke="#000" stroke-width="1.6"/>
<rect x="204.80" y="604.05" width="34.80" height="39.55" fill="#fff" stroke="#000" stroke-width="1.7"/>
<line x1="152.35" y1="616.00" x2="185.45" y2="616.00" stroke="#666" stroke-width="0.9"/>
<line x1="152.35" y1="619.10" x2="185.45" y2="619.10" stroke="#666" stroke-width="0.9"/>
<line x1="152.35" y1="622.20" x2="185.45" y2="622.20" stroke="#666" stroke-width="0.9"/>
<line x1="152.35" y1="625.30" x2="185.45" y2="625.30" stroke="#666" stroke-width="0.9"/>
<line x1="152.35" y1="628.40" x2="185.45" y2="628.40" stroke="#666" stroke-width="0.9"/>
<line x1="152.35" y1="631.50" x2="185.45" y2="631.50" stroke="#666" stroke-width="0.9"/>
<line x1="152.35" y1="634.60" x2="185.45" y2="634.60" stroke="#666" stroke-width="0.9"/>
<line x1="152.35" y1="637.70" x2="185.45" y2="637.70" stroke="#666" stroke-width="0.9"/>
<line x1="152.35" y1="640.80" x2="185.45" y2="640.80" stroke="#666" stroke-width="0.9"/>
<line x1="207.95" y1="605" x2="207.95" y2="642.6" stroke="#555" stroke-width="0.9"/>
<line x1="210.90" y1="605" x2="210.90" y2="642.6" stroke="#555" stroke-width="0.9"/>
<line x1="213.85" y1="605" x2="213.85" y2="642.6" stroke="#555" stroke-width="0.9"/>
<line x1="216.80" y1="605" x2="216.80" y2="642.6" stroke="#555" stroke-width="0.9"/>
<line x1="219.75" y1="605" x2="219.75" y2="642.6" stroke="#555" stroke-width="0.9"/>
<line x1="222.70" y1="605" x2="222.70" y2="642.6" stroke="#555" stroke-width="0.9"/>
<line x1="225.65" y1="605" x2="225.65" y2="642.6" stroke="#555" stroke-width="0.9"/>
<line x1="228.60" y1="605" x2="228.60" y2="642.6" stroke="#555" stroke-width="0.9"/>
<line x1="231.55" y1="605" x2="231.55" y2="642.6" stroke="#555" stroke-width="0.9"/>
<line x1="234.50" y1="605" x2="234.50" y2="642.6" stroke="#555" stroke-width="0.9"/>
<line x1="237.45" y1="605" x2="237.45" y2="642.6" stroke="#555" stroke-width="0.9"/>
<text x="0" y="0" font-size="10.6" font-weight="bold" text-anchor="end" fill="#000" transform="translate(65.30,660.00) rotate(-45)">PBMCs</text>
<text x="0" y="0" font-size="10.6" font-weight="bold" text-anchor="end" fill="#000" transform="translate(118.60,660.00) rotate(-45)">+epi-treated SS RBCs</text>
<text x="0" y="0" font-size="10.6" font-weight="bold" text-anchor="end" fill="#000" transform="translate(171.90,660.00) rotate(-45)">+supernatant of lysed SS RBCs</text>
<text x="0" y="0" font-size="10.6" font-weight="bold" text-anchor="end" fill="#000" transform="translate(225.20,660.00) rotate(-45)">HUVECs+SS RBCs</text>
<text x="261.00" y="500.30" font-size="17" font-weight="bold" text-anchor="start" fill="#000" >F</text>
<line x1="322.4" y1="514.5" x2="322.4" y2="642.3" stroke="#000" stroke-width="1.8"/>
<line x1="321.5" y1="641.3" x2="512.8" y2="641.3" stroke="#000" stroke-width="1.8"/>
<line x1="318.5" y1="641.30" x2="322.4" y2="641.30" stroke="#000" stroke-width="1.5"/>
<text x="318.20" y="644.40" font-size="8.9" font-weight="bold" text-anchor="end" fill="#000" >0</text>
<line x1="318.5" y1="616.10" x2="322.4" y2="616.10" stroke="#000" stroke-width="1.5"/>
<text x="318.20" y="619.20" font-size="8.9" font-weight="bold" text-anchor="end" fill="#000" >10</text>
<line x1="318.5" y1="590.90" x2="322.4" y2="590.90" stroke="#000" stroke-width="1.5"/>
<text x="318.20" y="594.00" font-size="8.9" font-weight="bold" text-anchor="end" fill="#000" >20</text>
<line x1="318.5" y1="565.70" x2="322.4" y2="565.70" stroke="#000" stroke-width="1.5"/>
<text x="318.20" y="568.80" font-size="8.9" font-weight="bold" text-anchor="end" fill="#000" >30</text>
<line x1="318.5" y1="540.50" x2="322.4" y2="540.50" stroke="#000" stroke-width="1.5"/>
<text x="318.20" y="543.60" font-size="8.9" font-weight="bold" text-anchor="end" fill="#000" >40</text>
<line x1="318.5" y1="515.30" x2="322.4" y2="515.30" stroke="#000" stroke-width="1.5"/>
<text x="318.20" y="518.40" font-size="8.9" font-weight="bold" text-anchor="end" fill="#000" >50</text>
<line x1="338.30" y1="641.3" x2="338.30" y2="646" stroke="#000" stroke-width="1.5"/>
<line x1="369.84" y1="641.3" x2="369.84" y2="646" stroke="#000" stroke-width="1.5"/>
<line x1="401.38" y1="641.3" x2="401.38" y2="646" stroke="#000" stroke-width="1.5"/>
<line x1="432.92" y1="641.3" x2="432.92" y2="646" stroke="#000" stroke-width="1.5"/>
<line x1="464.46" y1="641.3" x2="464.46" y2="646" stroke="#000" stroke-width="1.5"/>
<line x1="496.00" y1="641.3" x2="496.00" y2="646" stroke="#000" stroke-width="1.5"/>
<text x="0" y="0" font-size="10.6" font-weight="bold" text-anchor="middle" fill="#000" transform="translate(300.80,578.50) rotate(-90)">% Adherent PBMCs</text>
<line x1="338.30" y1="636.50" x2="338.30" y2="637.30" stroke="#000" stroke-width="1.5"/>
<line x1="332.30" y1="636.50" x2="344.30" y2="636.50" stroke="#000" stroke-width="1.5"/>
<rect x="327.70" y="638.10" width="21.20" height="3.20" fill="#000" stroke="#000" stroke-width="1.6"/>
<line x1="369.84" y1="598.80" x2="369.84" y2="603.00" stroke="#000" stroke-width="1.5"/>
<line x1="363.84" y1="598.80" x2="375.84" y2="598.80" stroke="#000" stroke-width="1.5"/>
<rect x="359.24" y="603.80" width="21.20" height="37.50" fill="#a8a8a8" stroke="#000" stroke-width="1.6"/>
<line x1="401.38" y1="539.20" x2="401.38" y2="544.40" stroke="#000" stroke-width="1.5"/>
<line x1="395.38" y1="539.20" x2="407.38" y2="539.20" stroke="#000" stroke-width="1.5"/>
<rect x="390.78" y="545.20" width="21.20" height="96.10" fill="#fff" stroke="#000" stroke-width="1.6"/>
<line x1="432.92" y1="609.40" x2="432.92" y2="611.70" stroke="#000" stroke-width="1.5"/>
<line x1="426.92" y1="609.40" x2="438.92" y2="609.40" stroke="#000" stroke-width="1.5"/>
<rect x="422.32" y="612.50" width="21.20" height="28.80" fill="#fff" stroke="#000" stroke-width="1.6"/>
<line x1="464.46" y1="539.20" x2="464.46" y2="548.50" stroke="#000" stroke-width="1.5"/>
<line x1="458.46" y1="539.20" x2="470.46" y2="539.20" stroke="#000" stroke-width="1.5"/>
<rect x="453.86" y="549.30" width="21.20" height="92.00" fill="url(#hatchR)" stroke="#000" stroke-width="1.6"/>
<line x1="496.00" y1="562.70" x2="496.00" y2="569.00" stroke="#000" stroke-width="1.5"/>
<line x1="490.00" y1="562.70" x2="502.00" y2="562.70" stroke="#000" stroke-width="1.5"/>
<rect x="485.40" y="569.80" width="21.20" height="71.50" fill="url(#hatchL)" stroke="#000" stroke-width="1.6"/>
<text x="369.84" y="591.58" font-size="10.2" font-weight="bold" text-anchor="middle">*</text>
<text x="397.38" y="530.98" font-size="10.2" font-weight="bold" text-anchor="middle">*</text>
<text x="405.38" y="530.98" font-size="10.2" font-weight="bold" text-anchor="middle">*</text>
<text x="432.92" y="601.78" font-size="10.2" font-weight="bold" text-anchor="middle">*</text>
<text x="456.96" y="531.58" font-size="10.2" font-weight="bold" text-anchor="middle">*</text>
<text x="464.46" y="531.58" font-size="10.2" font-weight="bold" text-anchor="middle">*</text>
<text x="471.96" y="531.58" font-size="10.2" font-weight="bold" text-anchor="middle">*</text>
<text x="496.00" y="554.68" font-size="10.2" font-weight="bold" text-anchor="middle">*</text>
<line x1="426.52" y1="613.2" x2="426.52" y2="640.3" stroke="#555" stroke-width="0.9"/>
<line x1="429.72" y1="613.2" x2="429.72" y2="640.3" stroke="#555" stroke-width="0.9"/>
<line x1="432.92" y1="613.2" x2="432.92" y2="640.3" stroke="#555" stroke-width="0.9"/>
<line x1="436.12" y1="613.2" x2="436.12" y2="640.3" stroke="#555" stroke-width="0.9"/>
<line x1="439.32" y1="613.2" x2="439.32" y2="640.3" stroke="#555" stroke-width="0.9"/>
<text x="0" y="0" font-size="9.65" font-weight="bold" text-anchor="end" fill="#000" transform="translate(341.70,654.40) rotate(-45)">PBMCs</text>
<text x="0" y="0" font-size="9.65" font-weight="bold" text-anchor="end" fill="#000" transform="translate(373.24,654.40) rotate(-45)">+sham-treated mature SS RBCs</text>
<text x="0" y="0" font-size="9.65" font-weight="bold" text-anchor="end" fill="#000" transform="translate(404.78,654.40) rotate(-45)">+epi-treated mature SS RBCs</text>
<text x="0" y="0" font-size="9.65" font-weight="bold" text-anchor="end" fill="#000" transform="translate(436.32,654.40) rotate(-45)">+sham-treated SS retic</text>
<text x="0" y="0" font-size="9.65" font-weight="bold" text-anchor="end" fill="#000" transform="translate(467.86,654.40) rotate(-45)">+epi-treated SS retic</text>
<text x="0" y="0" font-size="9.65" font-weight="bold" text-anchor="end" fill="#000" transform="translate(499.40,654.40) rotate(-45)">+epi-treated SS RBCs</text>
<text x="118.30" y="796.40" font-size="16.5" font-weight="bold" text-anchor="start" fill="#000" >G</text>
<line x1="165" y1="788" x2="165" y2="982.7" stroke="#555" stroke-width="1.2"/>
<line x1="164.4" y1="982.2" x2="427" y2="982.2" stroke="#555" stroke-width="1.2"/>
<line x1="162" y1="982.20" x2="165" y2="982.20" stroke="#555" stroke-width="1"/>
<text x="158.60" y="985.00" font-size="8" font-weight="normal" text-anchor="end" fill="#111" >0</text>
<line x1="162" y1="950.10" x2="165" y2="950.10" stroke="#555" stroke-width="1"/>
<text x="158.60" y="952.90" font-size="8" font-weight="normal" text-anchor="end" fill="#111" >10</text>
<line x1="162" y1="918.00" x2="165" y2="918.00" stroke="#555" stroke-width="1"/>
<text x="158.60" y="920.80" font-size="8" font-weight="normal" text-anchor="end" fill="#111" >20</text>
<line x1="162" y1="885.90" x2="165" y2="885.90" stroke="#555" stroke-width="1"/>
<text x="158.60" y="888.70" font-size="8" font-weight="normal" text-anchor="end" fill="#111" >30</text>
<line x1="162" y1="853.80" x2="165" y2="853.80" stroke="#555" stroke-width="1"/>
<text x="158.60" y="856.60" font-size="8" font-weight="normal" text-anchor="end" fill="#111" >40</text>
<line x1="162" y1="821.70" x2="165" y2="821.70" stroke="#555" stroke-width="1"/>
<text x="158.60" y="824.50" font-size="8" font-weight="normal" text-anchor="end" fill="#111" >50</text>
<line x1="162" y1="789.60" x2="165" y2="789.60" stroke="#555" stroke-width="1"/>
<text x="158.60" y="792.40" font-size="8" font-weight="normal" text-anchor="end" fill="#111" >60</text>
<line x1="165.00" y1="982.2" x2="165.00" y2="985" stroke="#555" stroke-width="1"/>
<text x="165.00" y="996.10" font-size="7.8" font-weight="normal" text-anchor="middle" fill="#111" >0</text>
<line x1="217.25" y1="982.2" x2="217.25" y2="985" stroke="#555" stroke-width="1"/>
<text x="217.25" y="996.10" font-size="7.8" font-weight="normal" text-anchor="middle" fill="#111" >1</text>
<line x1="269.50" y1="982.2" x2="269.50" y2="985" stroke="#555" stroke-width="1"/>
<text x="269.50" y="996.10" font-size="7.8" font-weight="normal" text-anchor="middle" fill="#111" >2</text>
<line x1="321.75" y1="982.2" x2="321.75" y2="985" stroke="#555" stroke-width="1"/>
<text x="321.75" y="996.10" font-size="7.8" font-weight="normal" text-anchor="middle" fill="#111" >3</text>
<line x1="374.00" y1="982.2" x2="374.00" y2="985" stroke="#555" stroke-width="1"/>
<text x="374.00" y="996.10" font-size="7.8" font-weight="normal" text-anchor="middle" fill="#111" >4</text>
<line x1="426.25" y1="982.2" x2="426.25" y2="985" stroke="#555" stroke-width="1"/>
<text x="426.25" y="996.10" font-size="7.8" font-weight="normal" text-anchor="middle" fill="#111" >5</text>
<text x="249.5" y="1007.2" font-size="7.9" font-weight="bold" fill="#222">Shear Stress (dyne/cm<tspan font-size="5.2" dy="-3.2">2</tspan><tspan dy="3.2">)</tspan></text>
<text x="0" y="0" font-size="9" textLength="73.8" lengthAdjust="spacingAndGlyphs" fill="#222" transform="translate(133.4,922.3) rotate(-90)">% Adherent PBMCs</text>
<polyline points="208.16,822.45 213.61,834.86 219.06,845.14 224.52,853.81 229.97,861.24 235.42,867.69 240.87,873.35 246.32,878.37 251.78,882.85 257.23,886.88 262.68,890.53 268.13,893.86 273.59,896.90 279.04,899.69 284.49,902.27 289.94,904.66 295.40,906.88 300.85,908.95 306.30,910.88 311.75,912.70 317.20,914.40 322.66,916.00 328.11,917.52 333.56,918.95 339.01,920.30 344.47,921.59 349.92,922.81 355.37,923.97 360.82,925.08 366.27,926.13 371.73,927.14 377.18,928.11 382.63,929.03 388.08,929.92 393.54,930.77 398.99,931.59 404.44,932.38 409.89,933.13 415.35,933.86 420.80,934.57 426.25,935.24" fill="none" stroke="#666" stroke-width="1"/>
<polyline points="196.80,922.80 202.54,923.81 208.27,924.81 214.01,925.80 219.75,926.79 225.48,927.77 231.22,928.74 236.95,929.70 242.69,930.66 248.43,931.61 254.16,932.55 259.90,933.48 265.63,934.41 271.37,935.33 277.11,936.24 282.84,937.14 288.58,938.04 294.32,938.93 300.05,939.81 305.79,940.68 311.52,941.55 317.26,942.41 323.00,943.26 328.73,944.10 334.47,944.94 340.21,945.77 345.94,946.59 351.68,947.40 357.41,948.21 363.15,949.01 368.89,949.80 374.62,950.58 380.36,951.36 386.10,952.13 391.83,952.89 397.57,953.64 403.31,954.39 409.04,955.13 414.78,955.86 420.51,956.58 426.25,957.30" fill="none" stroke="#666" stroke-width="1"/>
<line x1="203.5" y1="968.4" x2="426.5" y2="979.1" stroke="#666" stroke-width="1"/>
<line x1="198" y1="976.2" x2="426.5" y2="981.2" stroke="#666" stroke-width="1"/>
<line x1="200" y1="979.5" x2="426.5" y2="981.8" stroke="#666" stroke-width="0.8"/>
<rect x="206.00" y="798.50" width="4.2" height="4.2" fill="#fff" stroke="#333" stroke-width="0.8"/>
<rect x="213.50" y="845.40" width="4.2" height="4.2" fill="#fff" stroke="#333" stroke-width="0.8"/>
<rect x="214.60" y="866.40" width="4.2" height="4.2" fill="#fff" stroke="#333" stroke-width="0.8"/>
<rect x="236.10" y="865.60" width="4.2" height="4.2" fill="#fff" stroke="#333" stroke-width="0.8"/>
<rect x="278.10" y="891.10" width="4.2" height="4.2" fill="#fff" stroke="#333" stroke-width="0.8"/>
<rect x="196.40" y="974.40" width="4.2" height="4.2" fill="#fff" stroke="#333" stroke-width="0.8"/>
<polygon points="196.80,906.29 199.00,910.51 194.60,910.51" fill="#000" stroke="#000" stroke-width="0.7"/>
<polygon points="207.50,909.49 209.70,913.71 205.30,913.71" fill="#000" stroke="#000" stroke-width="0.7"/>
<polygon points="221.50,935.59 223.70,939.81 219.30,939.81" fill="#000" stroke="#000" stroke-width="0.7"/>
<polygon points="251.20,943.69 253.40,947.91 249.00,947.91" fill="#000" stroke="#000" stroke-width="0.7"/>
<polygon points="311.60,950.39 313.80,954.61 309.40,954.61" fill="#000" stroke="#000" stroke-width="0.7"/>
<circle cx="203.00" cy="963.90" r="2.0" fill="#fff" stroke="#333" stroke-width="0.8"/>
<circle cx="219.60" cy="971.90" r="2.0" fill="#fff" stroke="#333" stroke-width="0.8"/>
<circle cx="240.40" cy="970.80" r="2.0" fill="#fff" stroke="#333" stroke-width="0.8"/>
<circle cx="285.40" cy="975.60" r="2.0" fill="#fff" stroke="#333" stroke-width="0.8"/>
<circle cx="363.30" cy="974.80" r="2.0" fill="#fff" stroke="#333" stroke-width="0.8"/>
<circle cx="251.50" cy="978.80" r="2.0" fill="#fff" stroke="#333" stroke-width="0.8"/>
<polygon points="191.90,970.89 194.10,975.11 189.70,975.11" fill="#fff" stroke="#333" stroke-width="0.7"/>
<polygon points="203.20,976.99 205.40,981.21 201.00,981.21" fill="#fff" stroke="#333" stroke-width="0.7"/>
<polygon points="221.20,976.99 223.40,981.21 219.00,981.21" fill="#fff" stroke="#333" stroke-width="0.7"/>
<rect x="197.50" y="972.60" width="4.2" height="4.2" fill="#000"/>
<rect x="214.10" y="974.00" width="4.2" height="4.2" fill="#000"/>
<rect x="231.80" y="973.20" width="4.2" height="4.2" fill="#000"/>
<rect x="254.70" y="976.10" width="4.2" height="4.2" fill="#000"/>
<rect x="302.70" y="974.30" width="4.2" height="4.2" fill="#000"/>
<rect x="367.90" y="979.10" width="4.2" height="4.2" fill="#000"/>
<rect x="311.20" y="810.90" width="3.6" height="3.6" fill="#000"/>
<text x="316.40" y="815.10" font-size="6.6" font-weight="normal" text-anchor="start" fill="#222" >PBMCs</text>
<polygon points="313.00,826.49 315.20,830.71 310.80,830.71" fill="#fff" stroke="#333" stroke-width="0.7"/>
<text x="316.40" y="831.20" font-size="6.6" font-weight="normal" text-anchor="start" fill="#222" >PBMCs+sham-treated normal RBCs</text>
<circle cx="313.00" cy="844.30" r="1.9" fill="#fff" stroke="#333" stroke-width="0.8"/>
<text x="316.40" y="846.70" font-size="6.6" font-weight="normal" text-anchor="start" fill="#222" >PBMCs+epi-treated normal RBCs</text>
<polygon points="313.00,858.19 315.20,862.41 310.80,862.41" fill="#000" stroke="#000" stroke-width="0.7"/>
<text x="316.40" y="862.90" font-size="6.6" font-weight="normal" text-anchor="start" fill="#222" >PBMCs+sham-treated SS RBCs</text>
<rect x="311.20" y="874.40" width="3.6" height="3.6" fill="#fff" stroke="#333" stroke-width="0.8"/>
<text x="316.40" y="878.60" font-size="6.6" font-weight="normal" text-anchor="start" fill="#222" >PBMCs+epi-treated SS RBCs</text>
</svg></body></html>
